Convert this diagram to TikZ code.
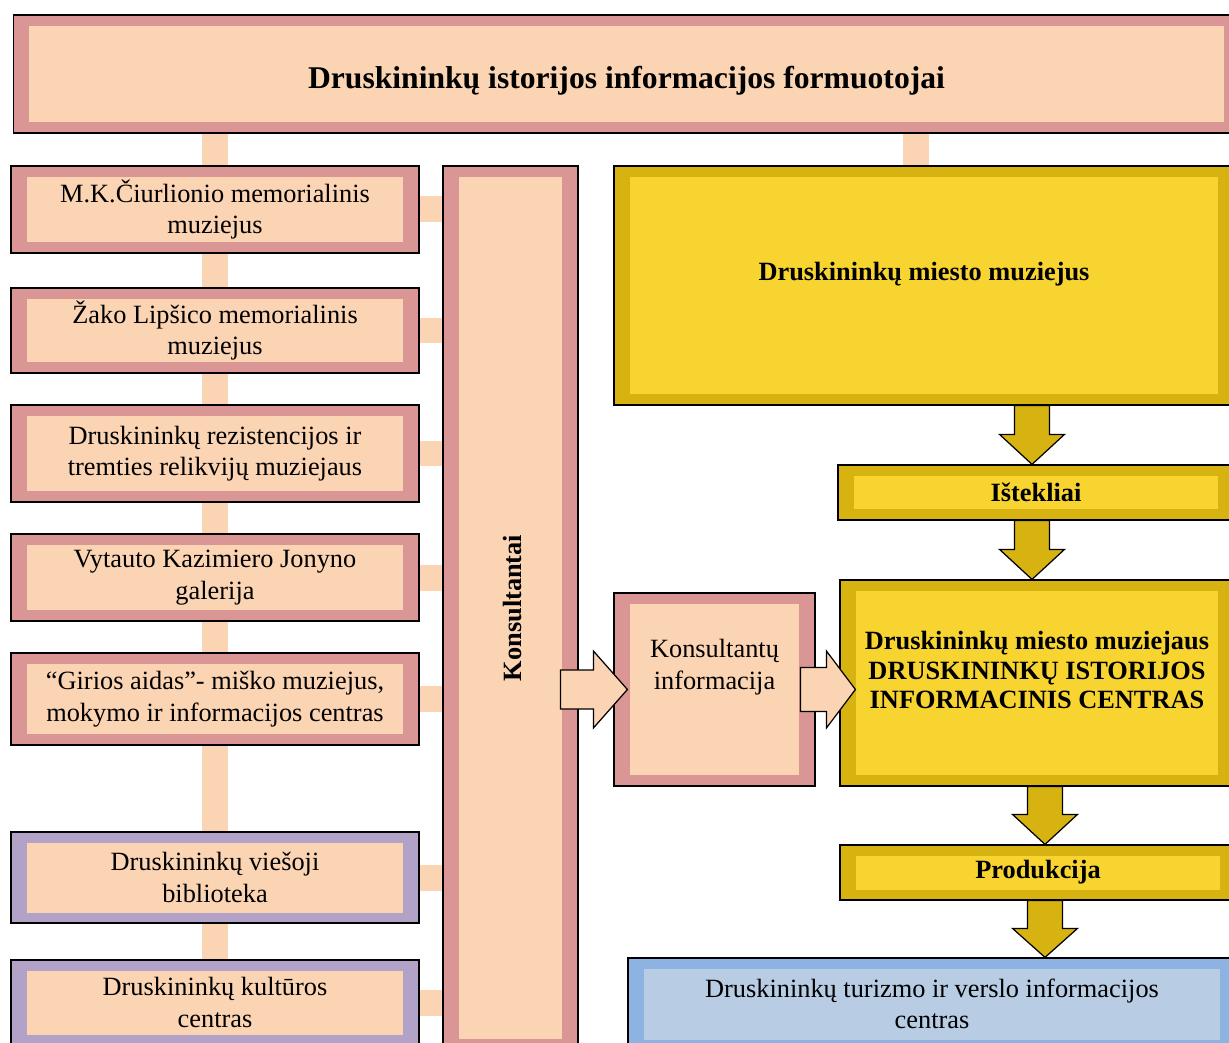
\documentclass[tikz,border=0pt]{standalone}
\usepackage{fontspec}
\setmainfont{Liberation Serif}
\usetikzlibrary{calc}
\usetikzlibrary{backgrounds}
\usetikzlibrary{positioning}

\definecolor{rosa}{HTML}{D99694}
\definecolor{peach}{HTML}{FBD4B4}
\definecolor{lila}{HTML}{B2A2C7}
\definecolor{gold}{HTML}{D7B312}
\definecolor{geltona}{HTML}{F8D430}
\definecolor{melyna}{HTML}{8DB3E2}
\definecolor{sviesmel}{HTML}{B8CCE4}

% block arrow: style, tail, tip, shaft half width, head half width, head length
\newcommand\blokas[6]{%
  \coordinate (bh) at ($(#3)!#6!(#2)$);
  \draw[#1] ($(#2)!#4!90:(#3)$) -- ($(bh)!#4!90:(#3)$) -- ($(bh)!#5!90:(#3)$) -- (#3)
    -- ($(bh)!#5!-90:(#3)$) -- ($(bh)!#4!-90:(#3)$) -- ($(#2)!#4!-90:(#3)$) -- cycle;
}

\tikzset{
  dvispalve/.style 2 args={draw=black, line width=0.7pt, fill=#1, inner sep=0pt, align=center,
    path picture={\fill[#2] ([shift={(0.32cm,-0.21cm)}]path picture bounding box.north west)
      rectangle ([shift={(-0.32cm,0.21cm)}]path picture bounding box.south east);}},
  rozine/.style={dvispalve={rosa}{peach}},
  violetine/.style={dvispalve={lila}{peach}},
  geltona dez/.style={dvispalve={gold}{geltona}, font=\bfseries\fontsize{15}{18}\selectfont},
  melyna dez/.style={dvispalve={melyna}{sviesmel}},
  kaire/.style={minimum width=8.16cm},
  jungtis/.style={draw=peach, line width=0.52cm},
  persikas/.style={draw=black, line width=0.7pt, fill=peach},
  auksas/.style={draw=black, line width=0.7pt, fill=gold}
}

\begin{document}
\begin{tikzpicture}[x=0.02cm, y=-0.02cm, font=\fontsize{15}{18}\selectfont]
  \useasboundingbox (0,0) rectangle (1229,1043);
  \clip (0,0) rectangle (1229,1043);

  \node[rozine, minimum width=24.54cm, minimum height=2.36cm,
    label={[name=titletxt, yshift=-0.14cm, font=\bfseries\fontsize{18}{21}\selectfont]center:Druskininkų istorijos informacijos formuotojai}]
    (formuotojai) at (626.5,74) {};

  % left column
  \node[rozine, kaire, minimum height=1.74cm] (c1) at (215,209.5) {M.K.Čiurlionio memorialinis\\muziejus};
  \node[rozine, kaire, minimum height=1.70cm] (c2) at (215,330.5) {Žako Lipšico memorialinis\\muziejus};
  \node[rozine, kaire, minimum height=1.94cm] (c3) at (215,453.5) {Druskininkų rezistencijos ir\\tremties relikvijų muziejaus};
  \node[rozine, kaire, minimum height=1.74cm] (c4) at (215,577.5) {Vytauto Kazimiero Jonyno\\galerija};
  \node[rozine, kaire, minimum height=1.84cm] (c5) at (215,699) {“Girios aidas”- miško muziejus,\\mokymo ir informacijos centras};
  \node[violetine, kaire, minimum height=1.82cm] (c6) at (215,877.5) {Druskininkų viešoji\\biblioteka};
  \node[violetine, kaire, minimum height=1.70cm] (c7) at (215,1002.5) {Druskininkų kultūros\\centras};

  \node[rozine, minimum width=2.70cm, minimum height=17.68cm] (kons) at (510.5,608) {};
  \node[rotate=90, font=\bfseries\fontsize{15}{18}\selectfont] (konstxt) at (513,608) {Konsultantai};

  \node[rozine, minimum width=4.02cm, minimum height=3.86cm,
    label={[name=infotxt, align=center, yshift=0.45cm]center:Konsultantų\\informacija}] (info) at (714.5,689.5) {};

  % right column
  \node[geltona dez, minimum width=12.40cm, minimum height=4.78cm,
    label={[name=mmtxt, yshift=0.22cm, font=\bfseries\fontsize{15}{18}\selectfont]center:Druskininkų miesto muziejus}] (mm) at (924,285.5) {};
  \node[geltona dez, minimum width=7.92cm, minimum height=1.10cm] (ist) at (1036,492.5) {Ištekliai};
  \node[geltona dez, minimum width=7.88cm, minimum height=4.12cm,
    label={[name=centrotxt, align=center, yshift=0.26cm, font=\bfseries\fontsize{15}{17}\selectfont]center:Druskininkų miesto muziejaus\\DRUSKININKŲ ISTORIJOS\\INFORMACINIS CENTRAS}] (centras) at (1037,683) {};
  \node[geltona dez, minimum width=7.92cm, minimum height=1.10cm] (prod) at (1038,872.5) {Produkcija};
  \node[melyna dez, minimum width=12.16cm, minimum height=1.84cm] (turizmas) at (932,1004) {Druskininkų turizmo ir verslo informacijos\\centras};

  \begin{scope}[on background layer]
    \draw[jungtis] (formuotojai.south -| c1.north) -- (c1.north);
    \draw[jungtis] ([xshift=-0.16cm]mm.north |- formuotojai.south) -- ([xshift=-0.16cm]mm.north);
    \foreach \a/\b in {c1/c2, c2/c3, c3/c4, c4/c5, c5/c6, c6/c7}
      \draw[jungtis] (\a) -- (\b);
    \foreach \a in {c1, c2, c3, c4, c5, c6, c7}
      \draw[jungtis] (\a.east) -- (\a.east -| kons.west);
  \end{scope}

  % block arrows
  \coordinate (k1) at ($(kons.east |- info.west)+(-18,0)$);
  \coordinate (k2) at ($(info.west)+(14,0)$);
  \blokas{persikas}{k1}{k2}{0.39cm}{0.77cm}{0.68cm}
  \coordinate (k3) at ($(info.east)+(-15,0)$);
  \coordinate (k4) at ($(centras.west |- info.east)+(16,0)$);
  \blokas{persikas}{k3}{k4}{0.44cm}{0.77cm}{0.58cm}

  \coordinate (d1) at ($(mm.south -| ist.north)+(-4,0)$);
  \coordinate (d2) at ($(ist.north)+(-4,0)$);
  \blokas{auksas}{d1}{d2}{0.35cm}{0.65cm}{0.6cm}
  \coordinate (d3) at ($(ist.south)+(-4,0)$);
  \coordinate (d4) at ($(centras.north)+(-5,0)$);
  \blokas{auksas}{d3}{d4}{0.35cm}{0.65cm}{0.6cm}
  \coordinate (d5) at ($(centras.south)+(8,0)$);
  \coordinate (d6) at ($(prod.north)+(7,0)$);
  \blokas{auksas}{d5}{d6}{0.35cm}{0.65cm}{0.6cm}
  \coordinate (d7) at ($(prod.south)+(7,0)$);
  \coordinate (d8) at (turizmas.north -| d7);
  \blokas{auksas}{d7}{d8}{0.35cm}{0.65cm}{0.58cm}
\end{tikzpicture}
\end{document}
